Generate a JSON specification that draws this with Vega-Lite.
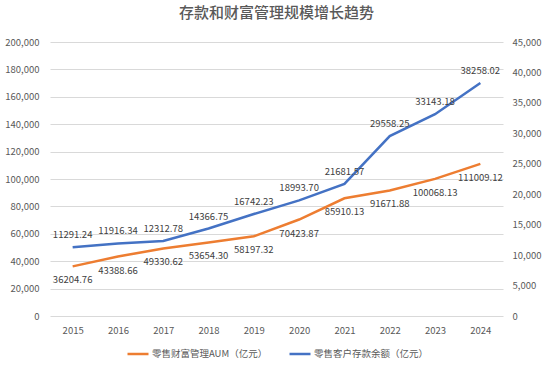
{
  "$schema": "https://vega.github.io/schema/vega-lite/v6.json",
  "autosize": "none",
  "width": 453,
  "height": 274,
  "padding": {"left": 50, "top": 42, "right": 47, "bottom": 52},
  "background": "white",
  "title": {"text": "存款和财富管理规模增长趋势", "fontSize": 15, "fontWeight": 500, "color": "#595959", "font": "Noto Sans CJK SC", "offset": 16, "anchor": "middle"},
  "data": {"values": [
    {"year": "2015", "aum": 36204.76, "deposit": 11291.24},
    {"year": "2016", "aum": 43388.66, "deposit": 11916.34},
    {"year": "2017", "aum": 49330.62, "deposit": 12312.78},
    {"year": "2018", "aum": 53654.30, "deposit": 14366.75},
    {"year": "2019", "aum": 58197.32, "deposit": 16742.23},
    {"year": "2020", "aum": 70423.87, "deposit": 18993.70},
    {"year": "2021", "aum": 85910.13, "deposit": 21681.57},
    {"year": "2022", "aum": 91671.88, "deposit": 29558.25},
    {"year": "2023", "aum": 100068.13, "deposit": 33143.18},
    {"year": "2024", "aum": 111009.12, "deposit": 38258.02}
  ]},
  "encoding": {
    "x": {"field": "year", "type": "ordinal", "scale": {"type": "point", "padding": 0.5},
      "axis": {"title": null, "labelAngle": 0, "domain": false, "ticks": false, "grid": false, "labelPadding": 9, "labelFontSize": 9.5, "labelColor": "#595959"}}
  },
  "layer": [
    {
      "encoding": {
        "y": {"field": "aum", "type": "quantitative", "scale": {"domain": [0, 200000], "nice": false},
          "axis": {"orient": "left", "title": null, "values": [0,20000,40000,60000,80000,100000,120000,140000,160000,180000,200000], "format": ",d", "domain": false, "ticks": false, "grid": true, "gridColor": "#D9D9D9", "labelPadding": 11, "labelFontSize": 9.5, "labelColor": "#595959"}}
      },
      "layer": [
        {"mark": {"type": "line", "strokeWidth": 2.5}, "encoding": {"color": {"datum": "零售财富管理AUM（亿元）", "type": "nominal"}}},
        {"mark": {"type": "text", "dy": 14, "fontSize": 9.5, "color": "#404040"}, "encoding": {"text": {"field": "aum", "type": "quantitative", "format": ".2f"}}}
      ]
    },
    {
      "encoding": {
        "y": {"field": "deposit", "type": "quantitative", "scale": {"domain": [0, 45000], "nice": false},
          "axis": {"orient": "right", "title": null, "values": [0,5000,10000,15000,20000,25000,30000,35000,40000,45000], "format": ",d", "domain": false, "ticks": false, "grid": false, "labelPadding": 9, "labelFontSize": 9.5, "labelColor": "#595959"}}
      },
      "layer": [
        {"mark": {"type": "line", "strokeWidth": 2.5}, "encoding": {"color": {"datum": "零售客户存款余额（亿元）", "type": "nominal"}}},
        {"mark": {"type": "text", "dy": -12, "fontSize": 9.5, "color": "#404040"}, "encoding": {"text": {"field": "deposit", "type": "quantitative", "format": ".2f"}}}
      ]
    }
  ],
  "resolve": {"scale": {"y": "independent"}},
  "config": {
    "font": "Noto Sans CJK SC",
    "view": {"stroke": null},
    "range": {"category": ["#ED7D31", "#4472C4"]},
    "legend": {
      "orient": "none", "legendX": 76, "legendY": 300, "direction": "horizontal", "title": null,
      "symbolType": "stroke", "symbolSize": 441, "symbolStrokeWidth": 2.5, "labelFontSize": 9.5,
      "labelColor": "#595959", "labelOffset": 2, "columnPadding": 16
    }
  }
}
